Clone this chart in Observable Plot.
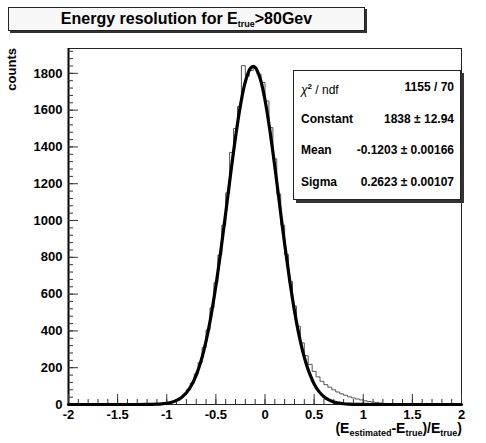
<!DOCTYPE html>
<html><head><meta charset="utf-8">
<script src="https://cdn.jsdelivr.net/npm/d3@7"></script>
<script src="https://cdn.jsdelivr.net/npm/@observablehq/plot@0.6"></script>
<style>
body{margin:0;background:#fff;font-family:"Liberation Sans",Arial,Helvetica,sans-serif;color:#000;}
#wrap{position:relative;width:486px;height:443px;overflow:hidden;}
#chart{position:absolute;left:0;top:0;}
.sub{font-size:9px;vertical-align:-3px;line-height:0;}
#title{position:absolute;left:8px;top:7px;width:355px;height:22px;border:1px solid #222;box-shadow:2px 2px 0 #333;background:#f7f7f7;text-align:center;font-weight:bold;font-size:16px;line-height:22px;}
#stats{position:absolute;left:293px;top:70px;width:166px;height:128px;border:1px solid #222;box-shadow:3px 3px 0 #333;background:#fff;font-size:12px;font-weight:bold;}
.row{position:absolute;left:7px;right:6px;height:16px;line-height:16px;}
.row .k{position:absolute;left:0;}
.row .v{position:absolute;right:0;}
#ytitle{position:absolute;left:4px;top:48px;writing-mode:vertical-rl;transform:rotate(180deg);font-size:13px;font-weight:bold;}
#xtitle{position:absolute;right:24px;top:420px;font-size:14px;font-weight:bold;white-space:nowrap;}
</style></head><body>
<div id="wrap">
  <div id="chart"></div>
  <div id="title">Energy resolution for E<span class="sub">true</span>&gt;80Gev</div>
  <div id="stats"></div>
  <div id="ytitle">counts</div>
  <div id="xtitle">(E<span class="sub">estimated</span>-E<span class="sub">true</span>)/E<span class="sub">true</span>)</div>
</div>
<script>
// ---- data ----
const binStart = -2;
const binWidth = 0.04;
const counts = [
  0,0,0,0,0,0,0,0,0,0, 0,0,1,0,0,0,1,0,1,1,
  1,2,2,4,6,9,15,24,36,54,
  80,116,166,228,310,405,525,662,812,975,
  1150,1370,1500,1620,1842,1785,1815,1830,1795,1750,
  1650,1505,1335,1145,975,815,668,535,425,335,
  265,218,180,150,126,108,94,80,68,58,
  50,42,36,30,25,20,16,13,11,8,
  6,5,4,3,3,2,2,2,1,1,
  1,0,1,0,1,0,0,1,0,0
];
const fitX = [-2,-1.6,-1.3,-1.2,-1.15,-1.1,-1.05,-1.0,-0.95,-0.9,-0.85,-0.8,-0.75,-0.7,-0.65,-0.6,-0.55,-0.5,-0.45,-0.4,-0.35,-0.3,-0.25,-0.2,-0.15,-0.12,-0.1,-0.05,0,0.05,0.1,0.15,0.2,0.25,0.3,0.35,0.4,0.45,0.5,0.55,0.6,0.65,0.7,0.75,0.8,0.85,0.9,0.95,1.0,1.1,1.5,2];
const fitY = [0,0,0,0.4,0.8,1.7,3.4,6.6,12.3,22.2,38.4,64,103,160,239,345,480,645,834,1041,1253,1453,1626,1755,1826,1838,1832,1773,1655,1489,1292,1081,872,679,509,368,257,173,112,70,42,25,14,7.5,3.9,2,1,0.5,0.2,0,0,0];
const xTickValues = [-2,-1.5,-1,-0.5,0,0.5,1,1.5,2];
const xTickLabels = ["-2","-1.5","-1","-0.5","0","0.5","1","1.5","2"];
const xMinorTicks = d3.range(-20, 21).map(i => i / 10);
const yTickValues = [0,200,400,600,800,1000,1200,1400,1600,1800];
const yTickLabels = ["0","200","400","600","800","1000","1200","1400","1600","1800"];
const yMinorTicks = d3.range(0, 49).map(i => i * 40);
const statLabels = ["χ² / ndf", "Constant", "Mean", "Sigma"];
const statValues = ["1155 / 70", "1838 ± 12.94", "-0.1203 ± 0.00166", "0.2623 ± 0.00107"];

// ---- build ----
const steps = [];
steps.push({x: binStart, y: 0});
counts.forEach((c, i) => {
  const x1 = binStart + i * binWidth, x2 = binStart + (i + 1) * binWidth;
  steps.push({x: x1, y: c});
  steps.push({x: x2, y: c});
});
steps.push({x: binStart + counts.length * binWidth, y: 0});
const fit = fitX.map((x, i) => ({x, y: fitY[i]}));

const W = 486, H = 443, mL = 68, mR = 25, mT = 48, mB = 39;
const pW = W - mL - mR, pH = H - mT - mB;

const chart = Plot.plot({
  width: W, height: H,
  marginLeft: mL, marginRight: mR, marginTop: mT, marginBottom: mB,
  x: {domain: [-2, 2]},
  y: {domain: [0, 1935]},
  style: {background: "transparent", fontFamily: '"Liberation Sans", Arial, sans-serif', fontSize: "13px", fontWeight: "bold", color: "#000"},
  marks: [
    Plot.frame({stroke: "#222", strokeWidth: 1}),
    Plot.ruleX([-2], {stroke: "#000", strokeWidth: 2}),
    Plot.tickX(xMinorTicks, {x: d => d, insetTop: pH - 5, stroke: "#333", strokeWidth: 1}),
    Plot.tickX(xTickValues, {x: d => d, insetTop: pH - 10, stroke: "#333", strokeWidth: 1}),
    Plot.tickY(yMinorTicks.filter(v => v <= 1935), {y: d => d, insetRight: pW - 5, stroke: "#333", strokeWidth: 1}),
    Plot.tickY(yTickValues, {y: d => d, insetRight: pW - 10, stroke: "#333", strokeWidth: 1}),
    Plot.axisX({ticks: xTickValues, tickSize: 0, tickPadding: 5, tickFormat: d => xTickLabels[xTickValues.indexOf(d)], label: null}),
    Plot.axisY({ticks: yTickValues, tickSize: 0, tickPadding: 6, tickFormat: d => yTickLabels[yTickValues.indexOf(d)], label: null}),
    Plot.line(steps, {x: "x", y: "y", stroke: "#555", strokeWidth: 1}),
    Plot.line(fit, {x: "x", y: "y", curve: "catmull-rom", stroke: "#000", strokeWidth: 3.2})
  ]
});
document.getElementById("chart").appendChild(chart);

const stats = document.getElementById("stats");
statLabels.forEach((lab, i) => {
  const row = document.createElement("div");
  row.className = "row";
  row.style.top = (8 + i * 31.5) + "px";
  const k = document.createElement("span");
  k.className = "k";
  if (i === 0) {
    k.innerHTML = '<i style="font-weight:normal">χ</i><sup style="font-size:8px">2</sup><span style="font-weight:normal"> / ndf</span>';
  } else {
    k.textContent = lab;
  }
  const v = document.createElement("span");
  v.className = "v";
  v.textContent = statValues[i];
  row.appendChild(k); row.appendChild(v);
  stats.appendChild(row);
});
</script>
</body></html>
